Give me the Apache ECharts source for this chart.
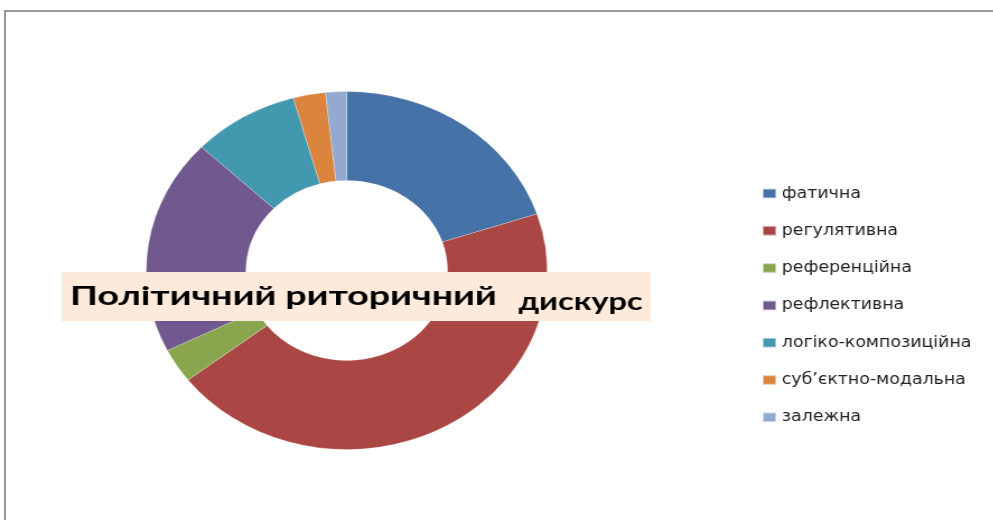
<!DOCTYPE html>
<html lang="uk">
<head>
<meta charset="UTF-8">
<title>Політичний риторичний дискурс</title>
<script src="https://cdn.jsdelivr.net/npm/echarts@6/dist/echarts.min.js"></script>
<style>
  html, body { margin: 0; padding: 0; background: #fff; overflow: hidden; }
  #frame {
    position: absolute; left: 4px; top: 10px; width: 1000px; height: 520px;
    border-top: 2px solid #979797; border-left: 2px solid #979797;
  }
  /* the picture is stretched horizontally, so draw narrower and widen */
  #main {
    position: absolute; left: 0; top: 0; width: 887px; height: 520px;
    transform: scaleX(1.12); transform-origin: 0 0;
  }
</style>
</head>
<body>
<div id="frame"></div>
<div id="main"></div>
<script>
  var categories = ['фатична', 'регулятивна', 'референційна', 'рефлективна',
    'логіко-композиційна', 'суб\u2019єктно-модальна', 'залежна'];
  var values = [19.9, 44.7, 3.1, 19.5, 8.6, 2.6, 1.7];
  var colors = ['#4572A7', '#AA4643', '#89A54E', '#71588F', '#4198AF', '#DB843D', '#93A9CF'];
  var titleParts = ['Політичний риторичний', 'дискурс'];

  var chart = echarts.init(document.getElementById('main'));

  var pieData = [];
  for (var i = 0; i < categories.length; i++) {
    pieData.push({ name: categories[i], value: values[i] });
  }

  var font = 'Lato, "Noto Sans", sans-serif';

  var option = {
    color: colors,
    animation: false,
    // title box drawn over the ring, like in the original slide
    graphic: [{
      type: 'rect',
      z: 10,
      shape: { x: 55, y: 272, width: 526, height: 49 },
      style: { fill: '#FDEADA' }
    }, {
      type: 'text',
      z: 20,
      x: 62.5,
      y: 283,
      scaleX: 1.24,
      style: {
        text: titleParts[0],
        fontFamily: font, fontSize: 27, fontWeight: 'bold', fill: '#000',
        verticalAlign: 'top'
      }
    }, {
      type: 'text',
      z: 20,
      x: 463,
      y: 289,
      scaleX: 1.16,
      style: {
        text: titleParts[1],
        fontFamily: font, fontSize: 25, fontWeight: 'bold', fill: '#000',
        verticalAlign: 'top'
      }
    }],
    legend: {
      orient: 'vertical',
      left: 680,
      top: 185.5,
      padding: 0,
      icon: 'rect',
      itemWidth: 12,
      itemHeight: 9.5,
      itemGap: 21.3,
      textStyle: { fontFamily: '"DejaVu Sans", sans-serif', fontSize: 15.5, lineHeight: 15.5, color: '#222' },
      data: categories
    },
    series: [{
      type: 'pie',
      center: [309.6, 270.5],
      radius: [90, 179],
      startAngle: 90,
      clockwise: true,
      label: { show: false },
      labelLine: { show: false },
      itemStyle: { borderColor: 'rgba(255,255,255,0.5)', borderWidth: 0.5 },
      emphasis: { disabled: true },
      data: pieData
    }]
  };

  chart.setOption(option);
</script>
</body>
</html>
